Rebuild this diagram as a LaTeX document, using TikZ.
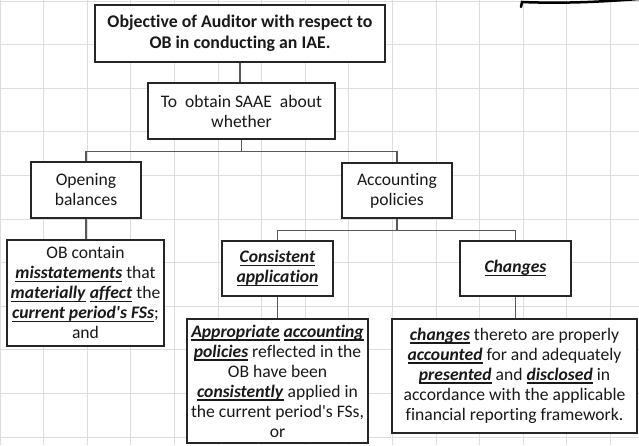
\documentclass[tikz,border=0pt]{standalone}
\usepackage{fontspec}
\setmainfont{Carlito}[Ligatures={TeX,NoCommon}]
\newsavebox{\kwbox}
\newcommand{\keyw}[1]{\sbox{\kwbox}{\textbf{\textit{#1}}}\leavevmode\rlap{\rule[-3.4pt]{\wd\kwbox}{1.6pt}}\usebox{\kwbox}}

\begin{document}
\begin{tikzpicture}[x=1pt,y=1pt,
  box/.style={draw=black!85,line width=1.4pt,fill=white,align=center,inner sep=1pt,
    text=black!90,font=\fontsize{17.6}{20}\selectfont},
  link/.style={draw=black!65,line width=1.4pt}]
\useasboundingbox (0,0) rectangle (639,445);
\fill[white] (0,0) rectangle (639,445);
\draw[step=43.6,black!13,line width=0.8pt,shift={(0,8)}] (0,-8) grid (639,437);

\node[box,minimum width=290,minimum height=57,font=\fontsize{17.8}{21}\selectfont\bfseries] (obj) at (240,411.5)
  {Objective of Auditor with respect to\\OB in conducting an IAE.};
\node[box,minimum width=187,minimum height=56] (saae) at (241.5,334) {To~ obtain SAAE~ about\\whether};

\node[box,minimum width=110,minimum height=56] (open) at (86,255) {Opening\\balances};
\node[box,minimum width=110,minimum height=55] (acc) at (397,254.5) {Accounting\\policies};

\node[box,minimum width=157,minimum height=106] (obc) at (85.5,152)
  {OB contain\\\keyw{misstatements} that\\\keyw{materially} \keyw{affect} the\\\keyw{current period\textquotesingle s FSs};\\and};

\node[box,minimum width=111,minimum height=55] (cons) at (277.5,176.5) {\keyw{Consistent}\\\keyw{application}};
\node[box,minimum width=111,minimum height=55] (chg) at (515.5,176.5) {\keyw{Changes}};

\node[box,minimum width=181,minimum height=124] (appr) at (277.5,64)
  {\keyw{Appropriate} \keyw{accounting}\\\keyw{policies} reflected in the\\OB have been\\\keyw{consistently} applied in\\the current period\textquotesingle s FSs,\\or};
\node[box,minimum width=245,minimum height=114] (chgt) at (514.5,69)
  {\keyw{changes} thereto are properly\\\keyw{accounted} for and adequately\\\keyw{presented} and \keyw{disclosed} in\\accordance with the applicable\\financial reporting framework.};

\draw[link] (obj.south) -- (obj.south |- saae.north);
\draw[link] (saae.south) -- ++(0,-12) coordinate (j1);
\draw[link] (open.north) |- (j1) -| (acc.north);
\draw[link] (open.south) -- (open.south |- obc.north);
\draw[link] (acc.south) -- ++(0,-12) coordinate (j2);
\draw[link] (cons.north) |- (j2) -| (chg.north);
\draw[link] (cons.south) -- (cons.south |- appr.north);
\draw[link] (chg.south) -- (chg.south |- chgt.north);

\draw[line width=2.5pt,line cap=round] (521,438) -- (522,443) .. controls (570,441) and (610,444) .. (639,446);
\end{tikzpicture}
\end{document}
